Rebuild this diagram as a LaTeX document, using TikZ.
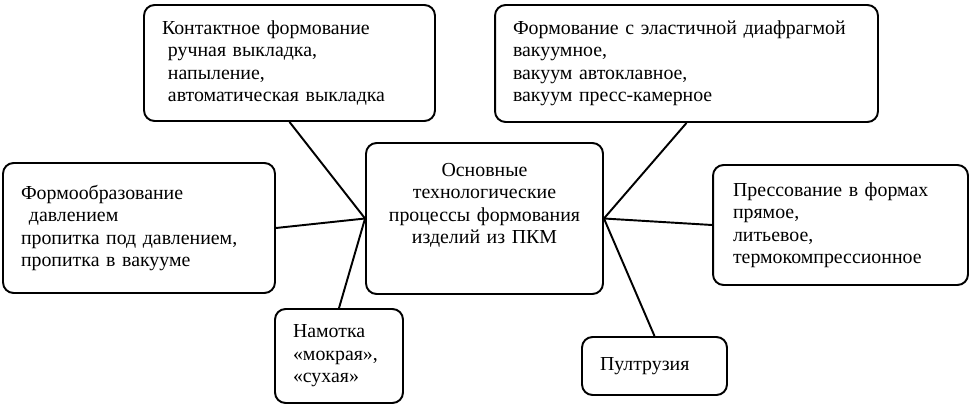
\documentclass[tikz,border=0pt]{standalone}
\usepackage{fontspec}
\setmainfont{Liberation Serif}

\begin{document}
\begin{tikzpicture}[
    x=0.02cm, y=-0.02cm,
    line/.style  = {line width=1.1pt},
    block/.style = {draw, line width=1.1pt, rounded corners=6pt, fill=white,
                    align=left, inner xsep=0.36cm, inner ysep=0pt,
                    font=\fontsize{11.3}{12.8}\selectfont},
    core/.style  = {block, align=center}
]
\useasboundingbox (0, 0) rectangle (970, 405);

% Central block
\node[core, minimum height=3.02cm, text width=4.02cm, text depth=1.95cm] (C) at (484.5, 218.5)
    {Основные\\технологические\\процессы формования\\изделий из ПКМ};

% Upper blocks
\node[block, minimum height=2.32cm, text width=5.10cm] (TL) at (289.5, 63)
    {Контактное формование\\\hspace*{0.3em}ручная выкладка,\\\hspace*{0.3em}напыление,\\\hspace*{0.3em}автоматическая выкладка};
\node[block, minimum height=2.34cm, text width=6.94cm] (TR) at (686.5, 63.5)
    {Формование с эластичной диафрагмой\\вакуумное,\\вакуум автоклавное,\\вакуум пресс-камерное};

% Side blocks
\node[block, minimum height=2.60cm, text width=4.72cm] (L) at (139, 228)
    {Формообразование\\\hspace*{0.4em}давлением\\пропитка под давлением,\\пропитка в вакууме};
\node[block, minimum height=2.40cm, text width=4.30cm, inner xsep=0.4cm] (R) at (840.5, 225)
    {Прессование в формах\\прямое,\\литьевое,\\термокомпрессионное};

% Lower blocks
\node[block, minimum height=1.88cm, text width=1.84cm] (N) at (339, 356)
    {Намотка\\«мокрая»,\\«сухая»};
\node[block, minimum height=1.16cm, text width=2.18cm] (P) at (654.5, 366)
    {Пултрузия};

% Links to the central block
\draw[line] (TL.south) -- (C.west);
\draw[line] (L.east)   -- (C.west);
\draw[line] (N.north)  -- (C.west);
\draw[line] (TR.south) -- (C.east);
\draw[line] (R.west)   -- (C.east);
\draw[line] (P.north)  -- (C.east);

\end{tikzpicture}
\end{document}
